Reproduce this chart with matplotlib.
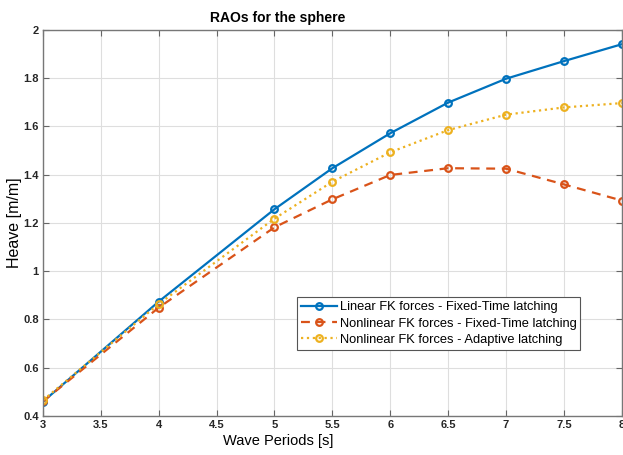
import matplotlib
matplotlib.use("Agg")
import matplotlib.pyplot as plt

periods = [3, 4, 5, 5.5, 6, 6.5, 7, 7.5, 8]
linear_fixed = [0.459, 0.874, 1.257, 1.427, 1.572, 1.699, 1.798, 1.871, 1.941]
nonlinear_fixed = [0.460, 0.849, 1.182, 1.298, 1.399, 1.427, 1.425, 1.360, 1.293]
nonlinear_adaptive = [0.465, 0.864, 1.218, 1.371, 1.493, 1.585, 1.649, 1.679, 1.697]
labels = ["Linear FK forces - Fixed-Time latching",
          "Nonlinear FK forces - Fixed-Time latching",
          "Nonlinear FK forces - Adaptive latching"]
xticks = [3, 3.5, 4, 4.5, 5, 5.5, 6, 6.5, 7, 7.5, 8]
xticklabels = ["3", "3.5", "4", "4.5", "5", "5.5", "6", "6.5", "7", "7.5", "8"]
yticks = [0.4, 0.6, 0.8, 1, 1.2, 1.4, 1.6, 1.8, 2]
yticklabels = ["0.4", "0.6", "0.8", "1", "1.2", "1.4", "1.6", "1.8", "2"]

plt.rcParams['font.family'] = ['Liberation Sans', 'DejaVu Sans']

fig = plt.figure(figsize=(6.23, 4.55), dpi=100)
ax = fig.add_axes([0.069, 0.086, 0.929, 0.848])

common = dict(marker='o', markersize=4.8, markerfacecolor='none', markeredgewidth=1.6, linewidth=1.6)
ax.plot(periods, linear_fixed, '-', color='#0072BD', label=labels[0], **common)
ax.plot(periods, nonlinear_fixed, '--', color='#D95319', label=labels[1], dashes=(4, 3), **common)
ax.plot(periods, nonlinear_adaptive, ':', color='#EDB120', label=labels[2], **common)

ax.set_xlim(3, 8)
ax.set_ylim(0.4, 2)
ax.set_xticks(xticks)
ax.set_xticklabels(xticklabels)
ax.set_yticks(yticks)
ax.set_yticklabels(yticklabels)
ax.grid(True, color='#dedede', linewidth=0.8)
ax.set_axisbelow(True)
ax.tick_params(direction='in', top=True, right=True, labelsize=8, length=4,
               color='#666666', labelcolor='#262626', pad=3)
for lab in ax.get_xticklabels() + ax.get_yticklabels():
    lab.set_fontweight('bold')
for s in ax.spines.values():
    s.set_color('#777777')
    s.set_linewidth(1.0)

ax.set_title("RAOs for the sphere", fontsize=10, fontweight='bold', pad=6, x=0.406)
ax.set_xlabel("Wave Periods [s]", fontsize=10.5, labelpad=3)
ax.xaxis.label.set_x(0.406)
ax.set_ylabel("Heave [m/m]", fontsize=11.5)
ax.yaxis.set_label_coords(-0.036, 0.5)

leg = ax.legend(loc='lower left', bbox_to_anchor=(0.439, 0.171), fontsize=9.3,
                frameon=True, fancybox=False, edgecolor='#555555', framealpha=1,
                handlelength=2.8, handletextpad=0.2, borderpad=0.3, labelspacing=0.33,
                borderaxespad=0)
leg.get_frame().set_linewidth(0.8)

fig.savefig("out.png", dpi=100)
